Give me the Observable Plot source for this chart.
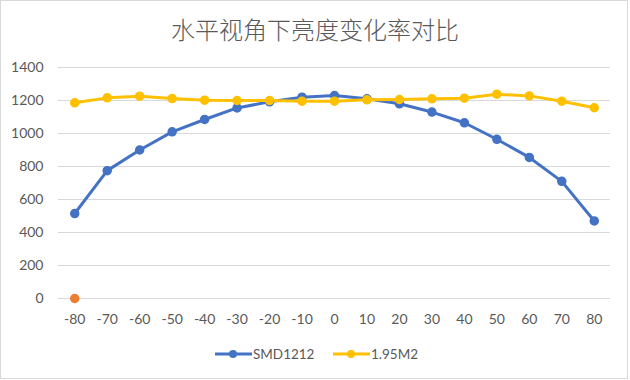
<!DOCTYPE html>
<html><head><meta charset="utf-8">
<script src="https://cdn.jsdelivr.net/npm/d3@7"></script>
<script src="https://cdn.jsdelivr.net/npm/@observablehq/plot@0.6"></script>
<style>
body{margin:0;background:#fff;}
#wrap{position:relative;width:630px;height:380px;overflow:hidden;font-family:Lato,"Noto Sans CJK SC",sans-serif;background:#fff;}
#frame{position:absolute;left:0;top:0;width:626px;height:377px;border:1px solid #d9d9d9;}
#title{position:absolute;left:0;top:14px;width:630px;text-align:center;font:300 24px "Noto Sans CJK SC",sans-serif;color:#595959;line-height:30px;}
#chart{position:absolute;left:0;top:52px;}
.leg{position:absolute;top:345px;height:18px;display:flex;align-items:center;font:13.5px Lato,sans-serif;color:#595959;}
.leg svg{margin-right:1px;}
</style>
</head><body>
<div id="wrap">
  <div id="frame"></div>
  <div id="title">水平视角下亮度变化率对比</div>
  <div id="chart"></div>
  <div id="legend"></div>
</div>
<script>
const angles = [-80,-70,-60,-50,-40,-30,-20,-10,0,10,20,30,40,50,60,70,80];
const smd1212 = [515,775,900,1010,1085,1155,1192,1220,1230,1210,1180,1130,1065,965,855,710,470];
const m195 = [1186,1216,1226,1212,1202,1200,1200,1196,1196,1204,1206,1210,1214,1238,1228,1196,1156];
const series3Angles = [-80];
const series3Values = [0];
const yTicks = [0,200,400,600,800,1000,1200,1400];
const seriesNames = ["SMD1212","1.95M2"];
const seriesColors = ["#4472C4","#FFC000"];
const series3Color = "#ED7D31";

const dataA = angles.map((a,i)=>({angle:a, v:smd1212[i]}));
const dataB = angles.map((a,i)=>({angle:a, v:m195[i]}));
const dataC = series3Angles.map((a,i)=>({angle:a, v:series3Values[i]}));

const chart = Plot.plot({
  width:630, height:283,
  marginLeft:58, marginRight:20, marginTop:15, marginBottom:37,
  style:{fontFamily:"Lato, sans-serif", fontSize:"14px", color:"#595959", background:"transparent", overflow:"visible"},
  x:{type:"point", domain:angles, padding:0.5, round:false, label:null, tickSize:0, tickPadding:16},
  y:{domain:[0,1400], ticks:yTicks, tickFormat:d3.format("d"), label:null, tickSize:0, tickPadding:15},
  marks:[
    Plot.ruleY(yTicks, {stroke:"#d9d9d9", strokeWidth:1}),
    Plot.line(dataA, {x:"angle", y:"v", stroke:seriesColors[0], strokeWidth:3, strokeLinejoin:"round"}),
    Plot.dot(dataA, {x:"angle", y:"v", r:4, fill:seriesColors[0], stroke:seriesColors[0]}),
    Plot.line(dataB, {x:"angle", y:"v", stroke:seriesColors[1], strokeWidth:3, strokeLinejoin:"round"}),
    Plot.dot(dataB, {x:"angle", y:"v", r:4, fill:seriesColors[1], stroke:seriesColors[1]}),
    Plot.dot(dataC, {x:"angle", y:"v", r:4, fill:series3Color, stroke:series3Color})
  ]
});
document.getElementById("chart").appendChild(chart);

const legend = document.getElementById("legend");
const legLefts = [215, 333];
seriesNames.forEach((name,i)=>{
  const d = document.createElement("div");
  d.className = "leg";
  d.style.left = legLefts[i] + "px";
  d.innerHTML = `<svg width="37" height="18"><line x1="0" x2="37" y1="9" y2="9" stroke="${seriesColors[i]}" stroke-width="3"/><circle cx="18" cy="9" r="4" fill="${seriesColors[i]}"/></svg><span>${name}</span>`;
  legend.appendChild(d);
});
</script>
</body></html>
